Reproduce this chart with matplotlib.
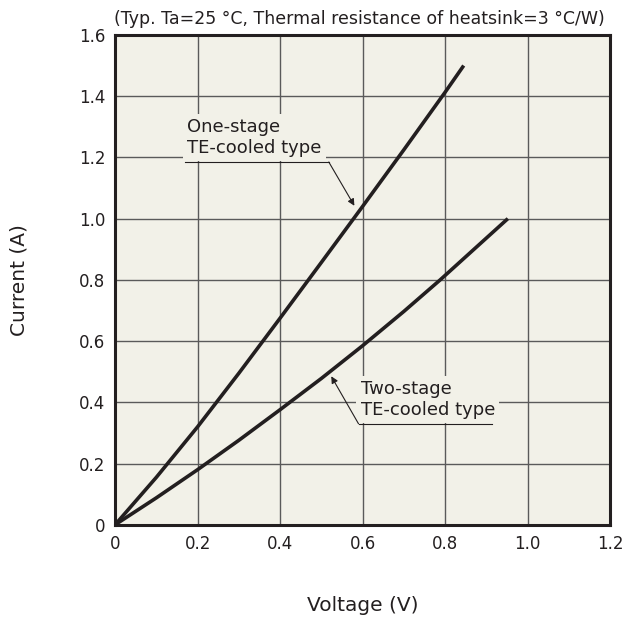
import matplotlib
matplotlib.use("Agg")
import matplotlib.pyplot as plt

plt.rcParams["font.family"] = ["DejaVu Sans"]

# values
one_stage_v = [0.0, 0.10, 0.20, 0.30, 0.40, 0.50, 0.60, 0.70, 0.80, 0.845]
one_stage_i = [0.0, 0.155, 0.32, 0.495, 0.675, 0.857, 1.04, 1.225, 1.413, 1.50]
two_stage_v = [0.0, 0.10, 0.20, 0.30, 0.40, 0.50, 0.60, 0.70, 0.788, 0.87, 0.952]
two_stage_i = [0.0, 0.088, 0.18, 0.276, 0.376, 0.478, 0.585, 0.697, 0.80, 0.90, 1.00]

x_ticks = [0, 0.2, 0.4, 0.6, 0.8, 1.0, 1.2]
x_labels = ["0", "0.2", "0.4", "0.6", "0.8", "1.0", "1.2"]
y_ticks = [0, 0.2, 0.4, 0.6, 0.8, 1.0, 1.2, 1.4, 1.6]
y_labels = ["0", "0.2", "0.4", "0.6", "0.8", "1.0", "1.2", "1.4", "1.6"]

bg = "#f2f1e8"
ink = "#231f20"

fig = plt.figure(figsize=(6.22, 6.24), dpi=100)
ax = fig.add_axes([0.185, 0.159, 0.796, 0.785])
ax.set_facecolor(bg)

ax.set_xlim(0, 1.2)
ax.set_ylim(0, 1.6)
ax.set_xticks(x_ticks)
ax.set_xticklabels(x_labels)
ax.set_yticks(y_ticks)
ax.set_yticklabels(y_labels)
ax.tick_params(length=0, labelsize=12, colors=ink)
ax.tick_params(axis="x", pad=7)
ax.tick_params(axis="y", pad=7)
ax.grid(True, color="#5a5a5a", linewidth=1.0)
ax.set_axisbelow(True)
for s in ax.spines.values():
    s.set_linewidth(2.2)
    s.set_color(ink)

ax.plot(one_stage_v, one_stage_i, color=ink, linewidth=2.6, solid_capstyle="butt", zorder=3)
ax.plot(two_stage_v, two_stage_i, color=ink, linewidth=2.6, solid_capstyle="butt", zorder=3)

# labels with arrows
txt_kw = dict(fontsize=13, color=ink, linespacing=1.2, zorder=4,
              bbox=dict(facecolor=bg, edgecolor="none", pad=3))
ax.text(0.175, 1.265, "One-stage\nTE-cooled type", ha="left", va="center", **txt_kw)
ax.plot([0.170, 0.518], [1.185, 1.185], color=ink, linewidth=0.8, zorder=5)
ax.annotate("", xy=(0.58, 1.042), xytext=(0.518, 1.185),
            arrowprops=dict(arrowstyle="-|>", color=ink, lw=0.8,
                            mutation_scale=10, shrinkA=0, shrinkB=0), zorder=5)

ax.text(0.595, 0.41, "Two-stage\nTE-cooled type", ha="left", va="center", **txt_kw)
ax.plot([0.590, 0.914], [0.33, 0.33], color=ink, linewidth=0.8, zorder=5)
ax.annotate("", xy=(0.524, 0.485), xytext=(0.590, 0.33),
            arrowprops=dict(arrowstyle="-|>", color=ink, lw=0.8,
                            mutation_scale=10, shrinkA=0, shrinkB=0), zorder=5)

fig.text(0.577, 0.969, "(Typ. Ta=25 °C, Thermal resistance of heatsink=3 °C/W)",
         ha="center", va="center", fontsize=12.5, color=ink)
fig.text(0.583, 0.030, "Voltage (V)", ha="center", va="center", fontsize=14.5, color=ink)
fig.text(0.030, 0.551, "Current (A)", ha="center", va="center", rotation=90,
         fontsize=14.5, color=ink)

fig.savefig("out.png", dpi=100, facecolor="white")
